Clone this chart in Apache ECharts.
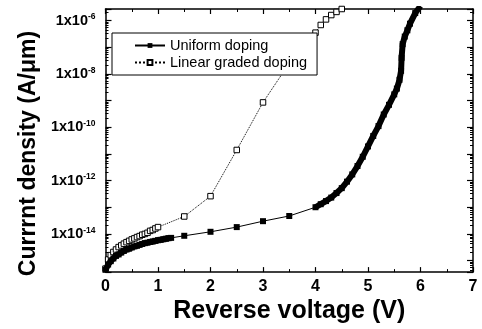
<!DOCTYPE html>
<html>
<head>
<meta charset="utf-8">
<script src="https://cdn.jsdelivr.net/npm/echarts@6/dist/echarts.min.js"></script>
<style>
  html, body { margin: 0; padding: 0; background: #fff; }
  #chart { width: 482px; height: 329px; }
</style>
</head>
<body>
<div id="chart"></div>
<script>
// reverse voltage (V) / current density (A/um)
const uniformV = [
    0, 0.05, 0.1, 0.15, 0.2, 0.25, 0.3, 0.35, 0.4, 0.45, 0.5, 0.55, 0.6, 0.65,
    0.7, 0.75, 0.8, 0.85, 0.9, 0.95, 1.0, 1.05, 1.1, 1.15, 1.2, 1.25,
    1.5, 2.0, 2.5, 3.0, 3.5, 4.0,
    4.1, 4.2, 4.3, 4.4, 4.5, 4.6, 4.7, 4.8, 4.9, 5.0, 5.1, 5.2, 5.3, 5.4,
    5.5, 5.55, 5.6, 5.63, 5.64, 5.66, 5.7, 5.75, 5.8, 5.9, 6.0
];
const uniformJ = [
    4.5e-16, 7.1e-16, 9.5e-16, 1.2e-15, 1.5e-15, 1.7e-15, 2.0e-15, 2.3e-15, 2.6e-15, 2.8e-15,
    3.1e-15, 3.4e-15, 3.6e-15, 3.9e-15, 4.2e-15, 4.5e-15, 4.7e-15, 5.0e-15, 5.2e-15, 5.5e-15,
    5.8e-15, 6.0e-15, 6.3e-15, 6.6e-15, 6.9e-15, 7.1e-15,
    8.5e-15, 1.2e-14, 1.8e-14, 3.0e-14, 4.7e-14, 1.0e-13,
    1.3e-13, 1.7e-13, 2.3e-13, 3.4e-13, 5.2e-13, 9.1e-13, 1.7e-12, 3.5e-12, 7.8e-12, 1.9e-11,
    4.7e-11, 1.1e-10, 3.0e-10, 6.9e-10, 1.7e-9, 2.8e-9, 6.0e-9, 1.3e-8, 4.0e-8, 1.3e-7,
    2.5e-7, 4.3e-7, 7.6e-7, 1.9e-6, 3.5e-6
];
const gradedV = [
    0, 0.05, 0.1, 0.15, 0.2, 0.25, 0.3, 0.35, 0.4, 0.45, 0.5, 0.55, 0.6, 0.65,
    0.7, 0.75, 0.8, 0.85, 0.9, 0.95, 1.0,
    1.5, 2.0, 2.5, 3.0, 3.5, 4.0, 4.1, 4.2, 4.3, 4.4, 4.5, 4.6
];
const gradedJ = [
    5.0e-16, 1.1e-15, 1.6e-15, 2.1e-15, 2.6e-15, 3.2e-15, 3.7e-15, 4.3e-15, 4.9e-15, 5.5e-15,
    6.2e-15, 6.8e-15, 7.6e-15, 8.3e-15, 9.3e-15, 1.0e-14, 1.1e-14, 1.3e-14, 1.4e-14, 1.6e-14,
    1.8e-14,
    4.5e-14, 2.6e-13, 1.4e-11, 8.5e-10, 2.5e-8, 3.5e-7, 6.8e-7, 1.1e-6, 1.6e-6, 2.1e-6,
    2.7e-6, 3.5e-6
];
const xTicks = [0, 1, 2, 3, 4, 5, 6, 7];
const yLabelExps = [-6, -8, -10, -12, -14];
const yMin = 3.7e-16;
const yMax = 2.7e-6;

const font = 'Liberation Sans';
const pairs = (xs, ys) => xs.map((x, i) => [x, ys[i]]);
const uniformData = pairs(uniformV, uniformJ);
// thick bands where the simulation points are packed together
const uniformBandLow = uniformData.filter(d => d[0] <= 1.25);
const uniformBandHigh = uniformData.filter(d => d[0] >= 4.0);

const chart = echarts.init(document.getElementById('chart'), null, {renderer: 'canvas'});

const bandSeries = (data) => ({
    name: 'Uniform doping',
    type: 'line',
    data: data,
    showSymbol: false,
    lineStyle: {color: '#000', width: 6, cap: 'butt', join: 'round'},
    z: 3
});

const axisLine = {show: true, onZero: false, lineStyle: {color: '#000', width: 1.5}};
const xTick = {show: true, inside: true, length: 5, lineStyle: {color: '#000', width: 1.2}};
const xMinor = {show: true, splitNumber: 2, length: 3, lineStyle: {color: '#000', width: 1}};
const yTick = {show: true, inside: true, length: 6, lineStyle: {color: '#000', width: 1.2}};
const yMinor = {show: true, splitNumber: 8, length: 3, lineStyle: {color: '#000', width: 1}};

const option = {
    animation: false,
    backgroundColor: '#fff',
    grid: {
        left: 105.5,
        right: 9,
        top: 9,
        bottom: 54
    },
    legend: {
        orient: 'vertical',
        left: 112,
        top: 33,
        padding: [5, 10, 5, 22],
        itemWidth: 30,
        itemHeight: 6,
        itemGap: 2,
        backgroundColor: '#fff',
        borderColor: '#000',
        borderWidth: 1,
        data: ['Uniform doping', 'Linear graded doping'],
        textStyle: {
            fontFamily: font,
            fontSize: 14.5,
            color: '#000'
        }
    },
    xAxis: [
        {
            type: 'value',
            min: xTicks[0],
            max: xTicks[xTicks.length - 1],
            interval: 1,
            name: 'Reverse voltage (V)',
            nameLocation: 'middle',
            nameGap: 22,
            nameTextStyle: {
                fontFamily: font,
                fontWeight: 'bold',
                fontSize: 25,
                color: '#000'
            },
            axisLine: axisLine,
            axisTick: xTick,
            minorTick: xMinor,
            splitLine: {show: false},
            axisLabel: {
                fontFamily: font,
                fontWeight: 'bold',
                fontSize: 16,
                color: '#000',
                margin: 6
            }
        },
        {
            type: 'value',
            position: 'top',
            min: xTicks[0],
            max: xTicks[xTicks.length - 1],
            interval: 1,
            axisLine: axisLine,
            axisTick: xTick,
            minorTick: xMinor,
            splitLine: {show: false},
            axisLabel: {show: false}
        }
    ],
    yAxis: [
        {
            type: 'log',
            logBase: 10,
            min: yMin,
            max: yMax,
            name: 'Currrnt density (A/\u03bcm)',
            nameLocation: 'middle',
            nameGap: 65,
            nameTextStyle: {
                fontFamily: font,
                fontWeight: 'bold',
                fontSize: 23,
                color: '#000',
                padding: [0, 26, 0, 0]
            },
            axisLine: axisLine,
            axisTick: yTick,
            minorTick: yMinor,
            splitLine: {show: false},
            axisLabel: {
                margin: 10,
                formatter: function (v) {
                    const e = Math.round(Math.log10(v));
                    if (Math.abs(Math.log10(v) - e) > 0.01 || yLabelExps.indexOf(e) < 0) {
                        return '';
                    }
                    return '{b|1x10}{e|' + e + '}';
                },
                rich: {
                    b: {fontFamily: font, fontWeight: 'bold', fontSize: 14.5, color: '#000', lineHeight: 16},
                    e: {fontFamily: font, fontWeight: 'bold', fontSize: 8.5, color: '#000', verticalAlign: 'top', lineHeight: 16, padding: [0, 0, 8, 0]}
                }
            }
        },
        {
            type: 'log',
            logBase: 10,
            position: 'right',
            min: yMin,
            max: yMax,
            axisLine: axisLine,
            axisTick: yTick,
            minorTick: yMinor,
            splitLine: {show: false},
            axisLabel: {show: false}
        }
    ],
    series: [
        {
            name: 'Uniform doping',
            type: 'line',
            data: uniformData,
            showAllSymbol: true,
            symbol: 'rect',
            symbolSize: 6,
            itemStyle: {color: '#000'},
            lineStyle: {color: '#000', width: 1},
            z: 3
        },
        bandSeries(uniformBandLow),
        bandSeries(uniformBandHigh),
        {
            name: 'Linear graded doping',
            type: 'line',
            data: pairs(gradedV, gradedJ),
            showAllSymbol: true,
            symbol: 'rect',
            symbolSize: 5.5,
            itemStyle: {color: '#fff', borderColor: '#000', borderWidth: 1},
            lineStyle: {color: '#000', width: 1, type: 'dotted'},
            z: 2
        }
    ]
};

chart.setOption(option);
</script>
</body>
</html>
